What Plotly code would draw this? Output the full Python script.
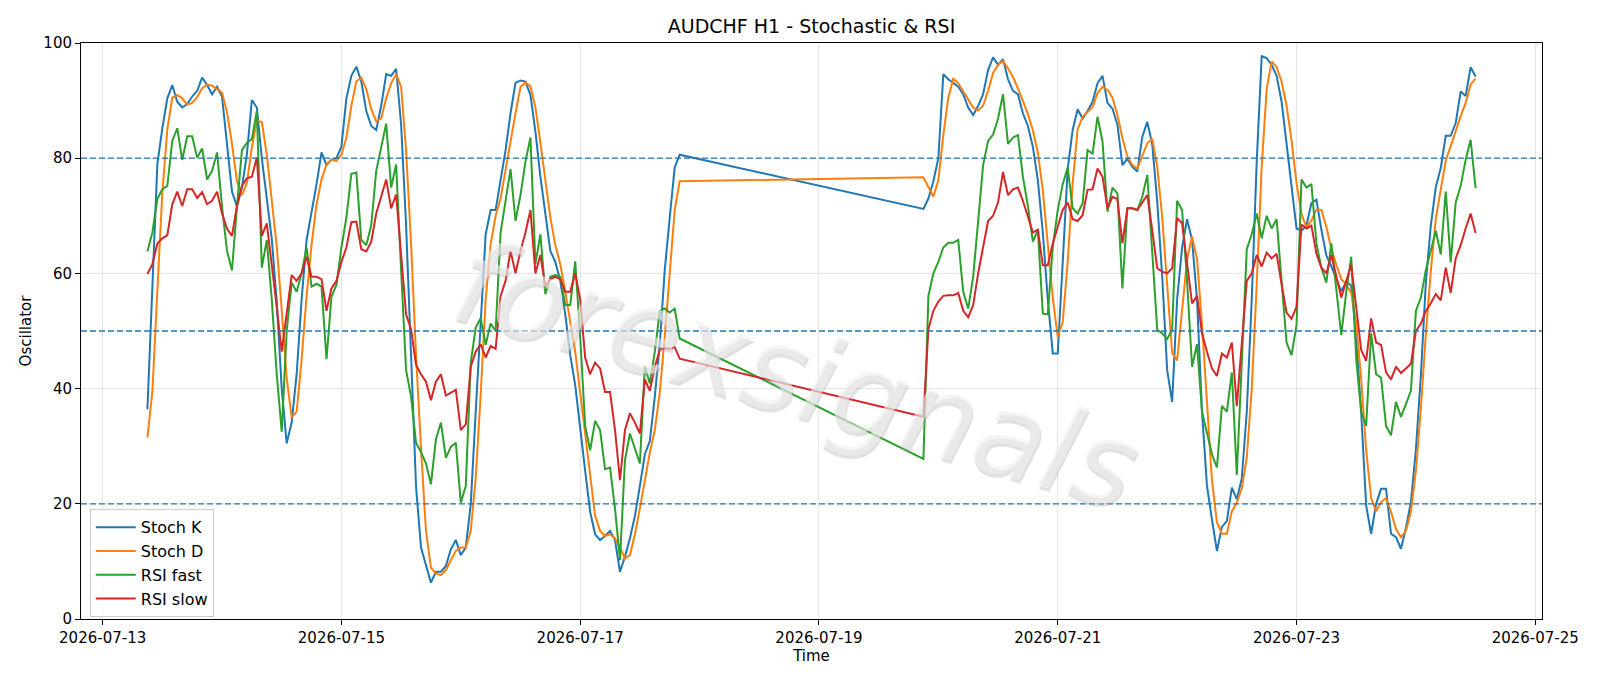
import pandas as pd
import plotly.graph_objects as go

# ---- time axis: two trading segments (weekend gap) ----
seg1_start, seg1_len = "2026-07-13 09:00", 108
seg2_start, seg2_len = "2026-07-19 21:00", 112

# ---- series values ----
stoch_k = [
    36.4, 57, 79, 85.2, 90.4, 92.7, 89.8, 88.8, 89.4, 90.7,
    91.7, 94.0, 92.7, 91.1, 92.4, 90.7, 82.7, 74.2, 71.6, 74.9,
    80.7, 90.1, 88.8, 80, 73, 66, 55, 40, 30.5, 34.1,
    42.5, 55.5, 65.8, 70.4, 75.5, 81, 78.8, 79.7, 80, 82,
    90.4, 94.3, 95.9, 93.3, 88.2, 85.6, 84.9, 89.1, 94.6, 94.3,
    95.5, 85.9, 68.4, 45.8, 23, 12.4, 9.5, 6.3, 8.2, 8.2,
    9.2, 12.1, 13.7, 11.1, 12.4, 19.9, 36, 52.2, 66.8, 71,
    71, 76.2, 81.4, 87.8, 93.1, 93.5, 93.3, 91, 84.6, 76.8,
    70.4, 63.9, 62, 58.7, 52.9, 45.8, 40.6, 32.8, 25.7, 18.6,
    14.7, 13.7, 14.4, 15.3, 13.7, 8.2, 10.8, 14, 17.9, 23.1,
    28.6, 30.9, 38.6, 47.7, 60.6, 69.7, 78.4, 80.6,
    71.2, 73, 76, 80, 94.6, 93.7, 93, 92.4, 91.1, 88.8,
    87.5, 89.1, 91.1, 95.3, 97.5, 96.2, 97.2, 93.7, 91.7, 91.1,
    87.8, 85.6, 82, 76.2, 67.1, 55.5, 46.1, 46.1, 61.9, 78.1,
    84.9, 88.5, 86.9, 88.2, 89.8, 93, 94.3, 89.6, 88.6, 85.8,
    78.8, 79.9, 78.5, 77.7, 83.7, 86.3, 82.4, 72.5, 59.5, 43.2,
    37.7, 55.5, 64.5, 69.4, 65.8, 55.5, 36, 23.1, 17.3, 11.8,
    16, 17, 22.8, 20.8, 24.4, 36, 55.5, 79.4, 97.7, 97.4,
    96.2, 94.3, 89.8, 82.7, 75.5, 67.8, 67.4, 68.3, 72.2, 72.8,
    67.6, 63.1, 61.2, 59.2, 56.9, 58.5, 57.9, 48.8, 35.9, 19.7,
    14.8, 20, 22.6, 22.6, 14.8, 14.2, 12.2, 15.8, 20.3, 29.4,
    42.3, 58.5, 68.3, 75, 78.3, 83.9, 83.9, 86.1, 91.6, 90.8,
    95.8, 94.2,
]

stoch_d = [
    31.5, 39.5, 57, 74, 85, 90.5, 91, 90.4, 89.3, 89.6,
    90.6, 92.1, 92.8, 92.6, 92, 91.4, 88, 82.5, 76, 73.6,
    75.7, 81.9, 86.5, 86.3, 80.6, 73, 64.7, 53.7, 41.8, 35,
    36, 45, 56, 65, 72, 76.3, 78.9, 79.8, 79.5, 80.6,
    83.6, 89.1, 93.3, 94, 92, 88.5, 86.4, 86.9, 90.4, 93,
    94.6, 92.4, 81.4, 65.2, 45.8, 29.6, 15.3, 8.9, 7.9, 7.6,
    8.5, 10.2, 11.8, 12.4, 12.4, 15.3, 24.5, 39, 55.5, 65,
    70, 73, 78.1, 82.7, 87.8, 92.4, 93.1, 92.5, 88.8, 82.7,
    76.2, 69.7, 64.9, 61.6, 56.8, 51.6, 46.4, 39.3, 32.2, 24.4,
    17.9, 15.3, 14.4, 14.7, 14, 12.4, 10.5, 11.1, 14.7, 19.2,
    24.4, 28.9, 32.8, 39.3, 49, 60.6, 71, 76,
    76.7, 75, 73.3, 76.2, 84, 90.5, 93.8, 93, 91.6, 90.2,
    88.8, 88.3, 89.1, 91.7, 94.8, 96.2, 96.9, 95.6, 94.1, 92.1,
    89.8, 87.7, 84.8, 81, 74.4, 65.4, 55.8, 49, 51.5, 62,
    75.6, 85, 87.2, 88, 88.9, 91.3, 92.4, 91.9, 90.5, 87.5,
    83.5, 80.3, 78.8, 78.2, 80.3, 82.6, 83.4, 78.5, 69.8, 58.5,
    46.2, 44.9, 54, 62.4, 66.4, 62.5, 51.2, 37, 24.1, 16.8,
    14.8, 14.8, 18.7, 20.2, 22.7, 28, 40, 58, 78.5, 92,
    96.8, 95.8, 93.3, 89.1, 83.1, 75.7, 70.3, 68, 69.2, 71.1,
    71, 68.1, 64.2, 61.5, 59, 58.1, 56.6, 51.4, 41.7, 29.3,
    21, 18.7, 20.3, 21, 18.6, 15.6, 14.2, 15.3, 18.6, 25.7,
    36.6, 49.5, 60.4, 69.5, 74.9, 79.6, 82.1, 84.9, 87.3, 89.6,
    92.8, 93.8,
]

rsi_fast = [
    63.8, 67.1, 72.9, 74.6, 75.2, 83, 85.2, 79.7, 83.8, 83.8,
    80.1, 81.7, 76.3, 77.8, 81, 71.6, 63.9, 60.5, 71.6, 81.4,
    82.7, 83.3, 88.2, 61, 65.8, 55.5, 42.5, 32.5, 50, 58.4,
    56.8, 60, 64.5, 57.7, 58.2, 57.7, 45.1, 56, 58, 64.5,
    69.7, 77.3, 77.5, 65.8, 64.9, 68.4, 77.8, 82, 86, 74.9,
    78.9, 60.6, 43.2, 38.6, 30.6, 29, 27, 23.4, 31.2, 34.1,
    28, 29.9, 30.6, 20.2, 23.1, 44.5, 50.6, 52.2, 47.6, 51.3,
    50, 67.1, 72.3, 78.1, 69.1, 73.6, 79.4, 83.6, 61.6, 66.8,
    56.4, 59.4, 59.7, 59.4, 54.5, 54.5, 62.1, 49, 33.5, 29.3,
    34.4, 32.8, 26, 26.3, 19.2, 10.2, 27.6, 32.2, 29.6, 27,
    43.8, 40.9, 46.4, 53.5, 53.9, 53.2, 53.9, 48.7,
    27.8, 56.1, 60, 62, 64.5, 65.3, 65.3, 65.8, 56.8, 53.9,
    59.4, 69.7, 78.8, 83, 84.1, 86.9, 91.1, 82.5, 83.6, 84,
    76.8, 71.7, 65.5, 67.5, 53, 52.9, 64.6, 71, 75.5, 78.4,
    71.3, 70.4, 72.2, 81.4, 80.8, 87.2, 82.9, 70.7, 74.9, 73.9,
    57.4, 71.3, 71.3, 71, 73.3, 77.1, 64, 50.2, 49.6, 48.6,
    50.2, 72.6, 71, 58.7, 43.8, 47.7, 36, 32.2, 28.6, 26.3,
    37, 36, 42.8, 25, 45.1, 64.2, 66.8, 70.4, 66.1, 70,
    67.8, 69.4, 58.7, 48, 45.8, 51, 76.3, 74.9, 75.5, 65.2,
    61, 58.4, 65.2, 56.8, 49.3, 56.8, 62.9, 45.1, 36, 33.5,
    49.6, 42.5, 41.9, 33.5, 31.9, 37.7, 35.1, 37.3, 39.6, 53.5,
    55.8, 60.6, 63.9, 67.4, 63.3, 74.2, 61.9, 72.3, 75.2, 79.7,
    83.2, 74.8,
]

rsi_slow = [
    59.9, 61.6, 65.2, 66.1, 66.6, 72, 74.2, 71.7, 74.6, 74.6,
    73.1, 74.1, 72, 72.6, 74.2, 70.4, 67.8, 66.5, 71.7, 75.2,
    76.5, 76.8, 80.1, 66.5, 68.7, 61.9, 54.2, 46.4, 53, 59.7,
    58.7, 60, 62.9, 59.4, 59.4, 59, 53.5, 57.4, 58.7, 62,
    64.5, 68.9, 69, 64.2, 63.8, 65.5, 70.4, 73.6, 76.3, 71.3,
    73.7, 63.2, 52.9, 50.3, 44.1, 42.5, 41.2, 38, 41.2, 42.5,
    38.8, 39.3, 39.8, 32.8, 33.8, 43.8, 46.4, 47.7, 45.4, 47.4,
    46.9, 56.1, 58.7, 63.9, 60, 63.9, 67.1, 71, 60, 63.2,
    57.7, 59, 59.4, 59, 56.8, 56.8, 60, 55.5, 45.4, 42.5,
    44.5, 43.5, 39.4, 39.4, 32.8, 24.1, 32.8, 35.7, 34.1, 32.2,
    41.6, 39.6, 43.8, 46.7, 47.1, 46.9, 47.2, 45.2,
    35.1, 50.3, 53.5, 55.1, 56.1, 56.2, 56.2, 56.6, 53.5, 52.4,
    54.5, 60, 64.5, 69.1, 70, 72.3, 77.6, 73.6, 74.6, 74.9,
    72.6, 69.7, 67.1, 67.6, 61.4, 61.4, 65.2, 68.1, 71, 72.3,
    69.4, 69.1, 70.1, 74.5, 74.6, 78.2, 76.8, 71.3, 73.3, 72.9,
    65.2, 71.3, 71.3, 71, 72.2, 73.6, 67.5, 60.9, 60.3, 60,
    60.9, 69.6, 68.7, 61.9, 54.8, 56.1, 49.6, 46.4, 43.5, 42.2,
    46.1, 45.4, 48, 37, 48.3, 58.7, 60, 63.2, 61.2, 63.6,
    62.6, 63.4, 58.1, 53.2, 52.1, 54.2, 68.5, 67.8, 68.3, 63.4,
    61, 60, 63.2, 59.4, 55.8, 58.7, 61.5, 54.2, 46.7, 44.8,
    52.2, 48, 47.6, 42.8, 41.6, 43.8, 42.7, 43.5, 44.3, 50,
    51.3, 53.5, 54.8, 56.4, 55.3, 61, 56.6, 62.6, 64.9, 67.8,
    70.4, 67,
]

series_names = ["Stoch K", "Stoch D", "RSI fast", "RSI slow"]
series_colors = ["#1f77b4", "#ff7f0e", "#2ca02c", "#d62728"]
ref_levels = [20, 50, 80]
y_ticks = [0, 20, 40, 60, 80, 100]
x_ticks = ["2026-07-13", "2026-07-15", "2026-07-17", "2026-07-19",
           "2026-07-21", "2026-07-23", "2026-07-25"]
x_range = ["2026-07-12 19:39", "2026-07-25 01:21"]

times = (list(pd.date_range(seg1_start, periods=seg1_len, freq="h")) +
         list(pd.date_range(seg2_start, periods=seg2_len, freq="h")))

fig = go.Figure()
for name, color, vals in zip(series_names, series_colors,
                             [stoch_k, stoch_d, rsi_fast, rsi_slow]):
    fig.add_trace(go.Scatter(x=times, y=vals, mode="lines", name=name,
                             line=dict(color=color, width=2)))

for lvl in ref_levels:
    fig.add_shape(type="line", xref="paper", x0=0, x1=1, yref="y", y0=lvl, y1=lvl,
                  line=dict(color="#1f77b4", width=1.3, dash="6px,3px"), layer="above")

fig.add_annotation(text="forexsignals", xref="paper", yref="paper", x=0.49, y=0.425,
                   showarrow=False, textangle=16,
                   font=dict(family="DejaVu Sans", size=116, color="rgba(238,238,238,0.6)",
                             style="italic", shadow="2px 3px 0px rgba(165,165,165,0.55)"))

fig.update_layout(
    width=1600, height=686,
    margin=dict(l=81, r=58, t=43, b=67),
    paper_bgcolor="white", plot_bgcolor="white",
    font=dict(family="DejaVu Sans", size=15, color="black"),
    title=dict(text="AUDCHF H1 - Stochastic & RSI", x=0.5, xref="paper", xanchor="center",
               y=1 - 26 / 686, yref="container", yanchor="middle",
               font=dict(size=19, color="black")),
    legend=dict(x=0.006, y=0.003, xanchor="left", yanchor="bottom",
                bgcolor="rgba(255,255,255,0.8)", bordercolor="#cccccc", borderwidth=1,
                font=dict(size=16), itemwidth=40),
    showlegend=True,
)
fig.update_xaxes(type="date", range=x_range, tickvals=x_ticks, ticktext=x_ticks,
                 showline=True, linecolor="black", linewidth=1, mirror=True,
                 ticks="outside", ticklen=5, tickcolor="black",
                 showgrid=True, gridcolor="#e6e6e6", gridwidth=1, zeroline=False,
                 title=dict(text="Time", standoff=4, font=dict(size=15)))
fig.update_yaxes(range=[0, 100], tickvals=y_ticks,
                 showline=True, linecolor="black", linewidth=1, mirror=True,
                 ticks="outside", ticklen=5, tickcolor="black",
                 showgrid=True, gridcolor="#e6e6e6", gridwidth=1, zeroline=False,
                 title=dict(text="Oscillator", standoff=8, font=dict(size=15)))

fig.write_html("out.html")
